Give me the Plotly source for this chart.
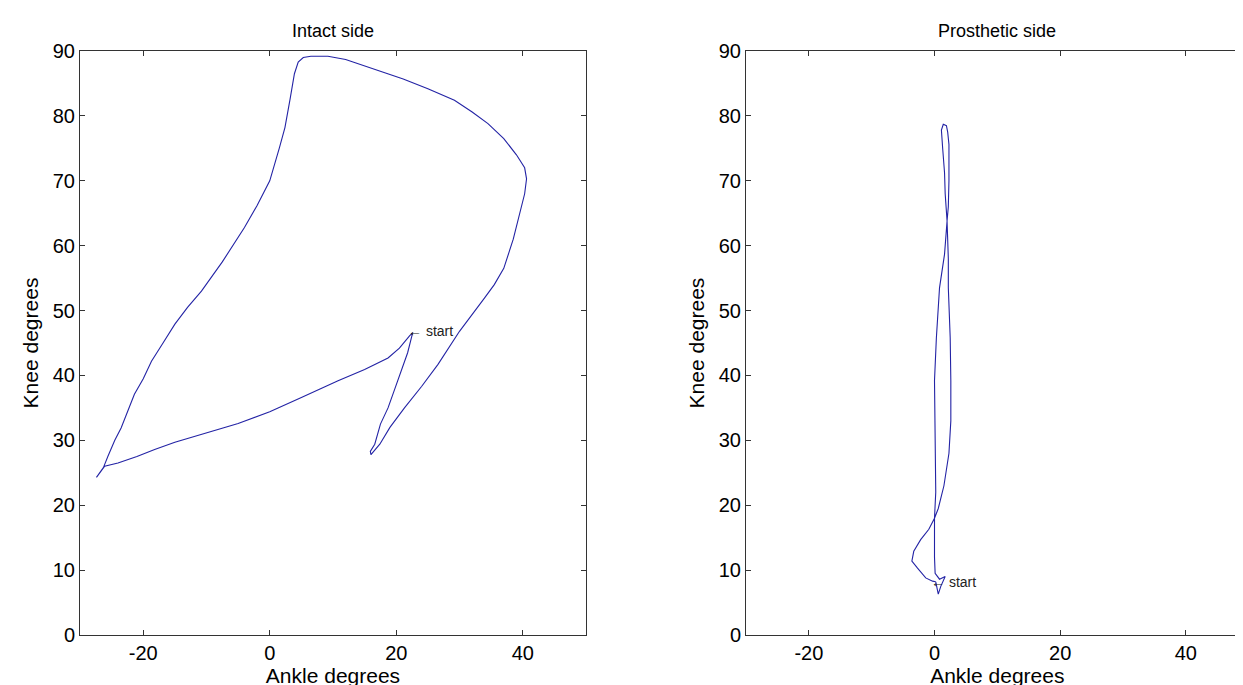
import plotly.graph_objects as go

# ---- Intact side (ankle, knee) in degrees ----
intact_ankle = [22.6, 22.1, 20.5, 18.7, 15.0, 10.8, 5.0, 0.0, -5.0, -10.8, -15.0, -18.2, -21.0, -24.0,
                -26.1, -27.4, -26.3, -25.6, -24.5, -23.5, -22.5, -21.4, -20.0, -18.7, -17.0, -15.0,
                -13.0, -10.8, -7.5, -4.0, -2.0, 0.0, 1.5, 2.4, 3.2, 3.9, 4.5, 5.3, 6.5, 9.2, 12.0,
                14.8, 21.1, 25.0, 29.2, 32.0, 34.5, 37.0, 39.0, 40.3, 40.6, 40.3, 39.5, 38.5, 37.0,
                35.5, 34.0, 30.0, 26.6, 24.0, 21.3, 19.0, 17.4, 16.3, 16.0, 15.9, 16.6, 17.5, 18.7,
                19.8, 20.8, 21.8, 22.6]
intact_knee = [46.6, 46.1, 44.2, 42.7, 40.9, 39.2, 36.6, 34.4, 32.6, 30.9, 29.7, 28.6, 27.5, 26.5,
               26.0, 24.3, 25.8, 27.5, 30.0, 31.9, 34.5, 37.1, 39.5, 42.2, 44.8, 47.9,
               50.5, 53.0, 57.5, 62.8, 66.2, 70.0, 75.0, 78.2, 82.5, 86.5, 88.3, 89.0, 89.2, 89.2, 88.7,
               87.8, 85.7, 84.2, 82.4, 80.6, 78.8, 76.5, 74.0, 72.0, 70.3, 68.0, 65.0, 61.0, 56.5,
               54.0, 52.0, 46.8, 41.7, 38.3, 35.0, 32.0, 29.4, 28.1, 27.8, 28.3, 29.4, 32.5, 35.0,
               38.0, 40.7, 43.5, 46.6]

# ---- Prosthetic side (ankle, knee) in degrees ----
prost_ankle = [0.2, 0.4, 0.6, 1.0, 1.7, 0.8, 0.1, 0.0, 0.0, 0.0, 0.2, 0.1, 0.0, 0.3, 0.8, 1.6,
               2.0, 1.7, 1.6, 1.3, 1.1, 1.4, 1.9, 2.1, 2.3, 2.3, 2.2, 2.0, 2.2, 2.2, 2.5, 2.6,
               2.6, 2.3, 1.5, 0.6, 0.0, -0.9, -2.2, -3.3, -3.6, -2.7, -1.4, -0.3, 0.2]
prost_knee = [8.2, 7.2, 6.3, 7.5, 9.0, 8.6, 9.5, 12.0, 15.0, 18.0, 22.0, 30.0, 39.2, 45.8, 53.5, 58.7,
              63.8, 68.0, 71.2, 75.0, 77.8, 78.7, 78.5, 77.5, 75.6, 70.0, 66.0, 63.8, 58.0, 53.5, 45.8, 39.2,
              33.0, 28.0, 23.0, 19.5, 18.0, 16.3, 14.7, 12.9, 11.4, 10.3, 8.8, 8.3, 8.2]

titles = ["Intact side", "Prosthetic side"]
x_ticks = [-20, 0, 20, 40]
x_tick_labels = ["-20", "0", "20", "40"]
y_ticks = [0, 10, 20, 30, 40, 50, 60, 70, 80, 90]
x_range = [-30, 50]
y_range = [0, 90]
start_label = "\u2190 start"

FONT = "Liberation Sans, Arial, Helvetica, sans-serif"
LINE = "rgb(35,35,165)"

fig = go.Figure()
fig.add_trace(go.Scatter(x=intact_ankle, y=intact_knee, mode="lines",
                         line=dict(color=LINE, width=1.1), xaxis="x", yaxis="y",
                         showlegend=False, hoverinfo="skip"))
fig.add_trace(go.Scatter(x=prost_ankle, y=prost_knee, mode="lines",
                         line=dict(color=LINE, width=1.1), xaxis="x2", yaxis="y2",
                         showlegend=False, hoverinfo="skip"))

W, H = 1243, 685
ml, mr, mt, mb = 72, 0, 43, 58
pw = W - ml - mr
d1 = [0, 506 / pw]
d2 = [666 / pw, 0.998]

def xax(domain, anchor):
    return dict(domain=domain, anchor=anchor, range=x_range, tickvals=x_ticks,
                ticktext=x_tick_labels,
                ticks="inside", ticklen=5, tickcolor="#333", showline=True, linecolor="#333",
                linewidth=1, mirror="ticks", showgrid=False, zeroline=False,
                tickfont=dict(family=FONT, size=20, color="black"),
                title=dict(text="Ankle degrees", font=dict(family=FONT, size=21, color="black"),
                           standoff=0))

def yax(anchor):
    return dict(domain=[0, 1], anchor=anchor, range=y_range, tickvals=y_ticks,
                ticks="inside", ticklen=5, tickcolor="#333", showline=True, linecolor="#333",
                linewidth=1, mirror="ticks", showgrid=False, zeroline=False,
                tickfont=dict(family=FONT, size=20, color="black"),
                title=dict(text="Knee degrees", font=dict(family=FONT, size=21, color="black"),
                           standoff=8))

annotations = []
for i, (t, dom) in enumerate(zip(titles, [d1, d2])):
    annotations.append(dict(text=t, x=(dom[0] + dom[1]) / 2, y=1, xref="paper", yref="paper",
                            xanchor="center", yanchor="bottom", yshift=8, showarrow=False,
                            font=dict(family=FONT, size=18, color="black")))
annotations.append(dict(text=start_label, x=intact_ankle[0] - 1.1, y=intact_knee[0] + 0.3,
                        xref="x", yref="y", xanchor="left", yanchor="middle", showarrow=False,
                        font=dict(family=FONT, size=14, color="#222")))
annotations.append(dict(text=start_label, x=prost_ankle[0] - 1.1, y=prost_knee[0],
                        xref="x2", yref="y2", xanchor="left", yanchor="middle", showarrow=False,
                        font=dict(family=FONT, size=14, color="#222")))

fig.update_layout(
    width=W, height=H, margin=dict(l=ml, r=mr, t=mt, b=mb),
    paper_bgcolor="white", plot_bgcolor="white",
    xaxis=xax(d1, "y"), yaxis=yax("x"),
    xaxis2=xax(d2, "y2"), yaxis2=yax("x2"),
    annotations=annotations,
)

fig.write_html("out.html")
